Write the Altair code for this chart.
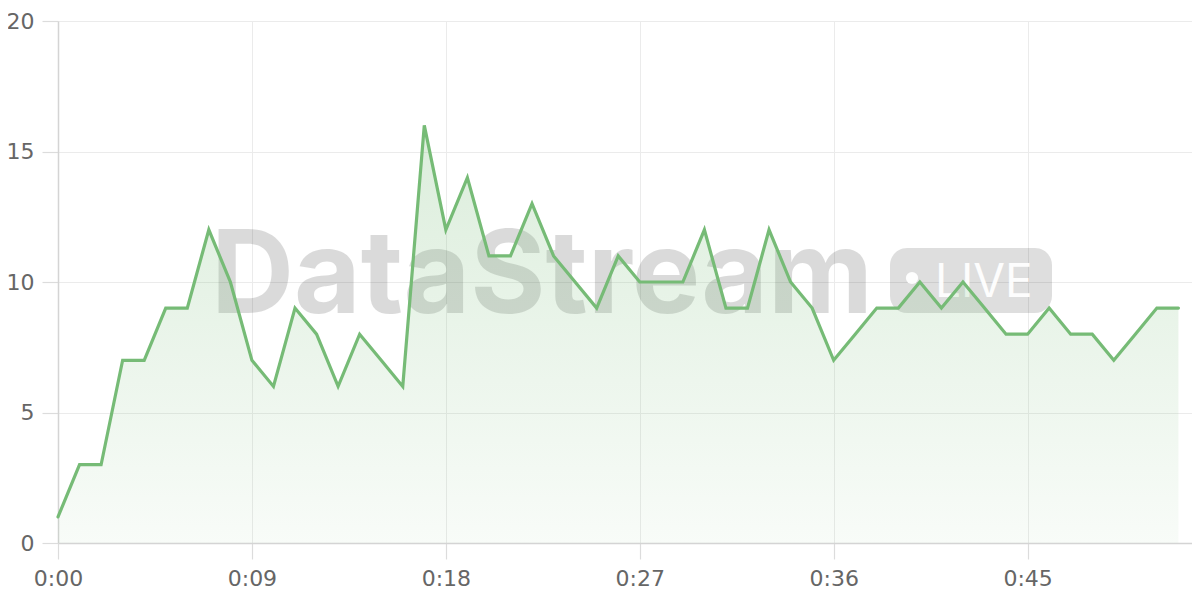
import altair as alt
import pandas as pd

# seconds since start and values per second
seconds = list(range(0, 53))
values = [1, 3, 3, 7, 7, 9, 9, 12, 10, 7,
          6, 9, 8, 6, 8, 7, 6, 16, 12, 14,
          11, 11, 13, 11, 10, 9, 11, 10, 10, 10,
          12, 9, 9, 12, 10, 9, 7, 8, 9, 9,
          10, 9, 10, 9, 8, 8, 9, 8, 8, 7,
          8, 9, 9]
x_ticks = [0, 9, 18, 27, 36, 45]
y_ticks = [0, 5, 10, 15, 20]
watermark_text = "DataStream"
badge_text = "LIVE"

df = pd.DataFrame({"t": seconds, "v": values})
one = pd.DataFrame({"k": [0]})

LINE = "#76bb76"
FONT = "Inter"
AXFONT = "DejaVu Sans"

x_enc = alt.X(
    "t:Q",
    scale=alt.Scale(domain=[0, 52.63], nice=False, zero=False),
    axis=alt.Axis(
        values=x_ticks,
        labelExpr="floor(datum.value/60) + ':' + (datum.value % 60 < 10 ? '0' : '') + (datum.value % 60)",
        title=None, labelFlush=False,
    ),
)
y_enc = alt.Y(
    "v:Q",
    scale=alt.Scale(domain=[0, 20], nice=False),
    axis=alt.Axis(values=y_ticks, title=None, labelFlush=False),
)

wm = alt.Chart(one).mark_text(
    text=watermark_text, font=FONT, fontWeight="bold", fontSize=115,
    align="left", baseline="alphabetic", fill="#000000", opacity=0.14,
).encode(x=alt.value(153), y=alt.value(292))

badge = alt.Chart(one).mark_rect(
    cornerRadius=17, fill="#000000", opacity=0.13,
).encode(x=alt.value(832), x2=alt.value(994), y=alt.value(227), y2=alt.value(292))

dot = alt.Chart(one).mark_point(
    filled=True, shape="circle", size=150, fill="#ffffff", opacity=0.95, stroke=None,
).encode(x=alt.value(854), y=alt.value(257))

live = alt.Chart(one).mark_text(
    text=badge_text, font=FONT, fontWeight="normal", fontSize=46,
    align="left", baseline="alphabetic", fill="#ffffff", opacity=0.95,
).encode(x=alt.value(877), y=alt.value(276))

area = alt.Chart(df).mark_area(
    line=False,
    color=alt.Gradient(
        gradient="linear",
        stops=[
            alt.GradientStop(color="rgba(118,187,118,0.26)", offset=0),
            alt.GradientStop(color="rgba(118,187,118,0.05)", offset=1),
        ],
        x1=1, x2=1, y1=0, y2=1,
    ),
).encode(x=x_enc, y=y_enc)

line = alt.Chart(df).mark_line(
    color=LINE, strokeWidth=3.2, strokeJoin="miter", strokeCap="round",
).encode(x=x_enc, y=y_enc)

chart = alt.layer(wm, badge, dot, live, area, line).properties(
    width=1134, height=522,
    autosize=alt.AutoSizeParams(type="none"),
    padding={"left": 50, "top": 13, "right": 0, "bottom": 49},
).configure_view(stroke=None).configure_axis(
    labelFont=AXFONT, labelFontSize=22, labelColor="#666666",
    gridColor="#ebebeb", gridWidth=1,
    tickColor="#dcdcdc", tickSize=16, tickWidth=1.2,
    domainColor="#d4d4d4", domainWidth=1.5,
).configure_axisX(labelPadding=9).configure_axisY(labelPadding=8)

chart.save("out.html", embed_options={"renderer": "svg", "actions": False})
